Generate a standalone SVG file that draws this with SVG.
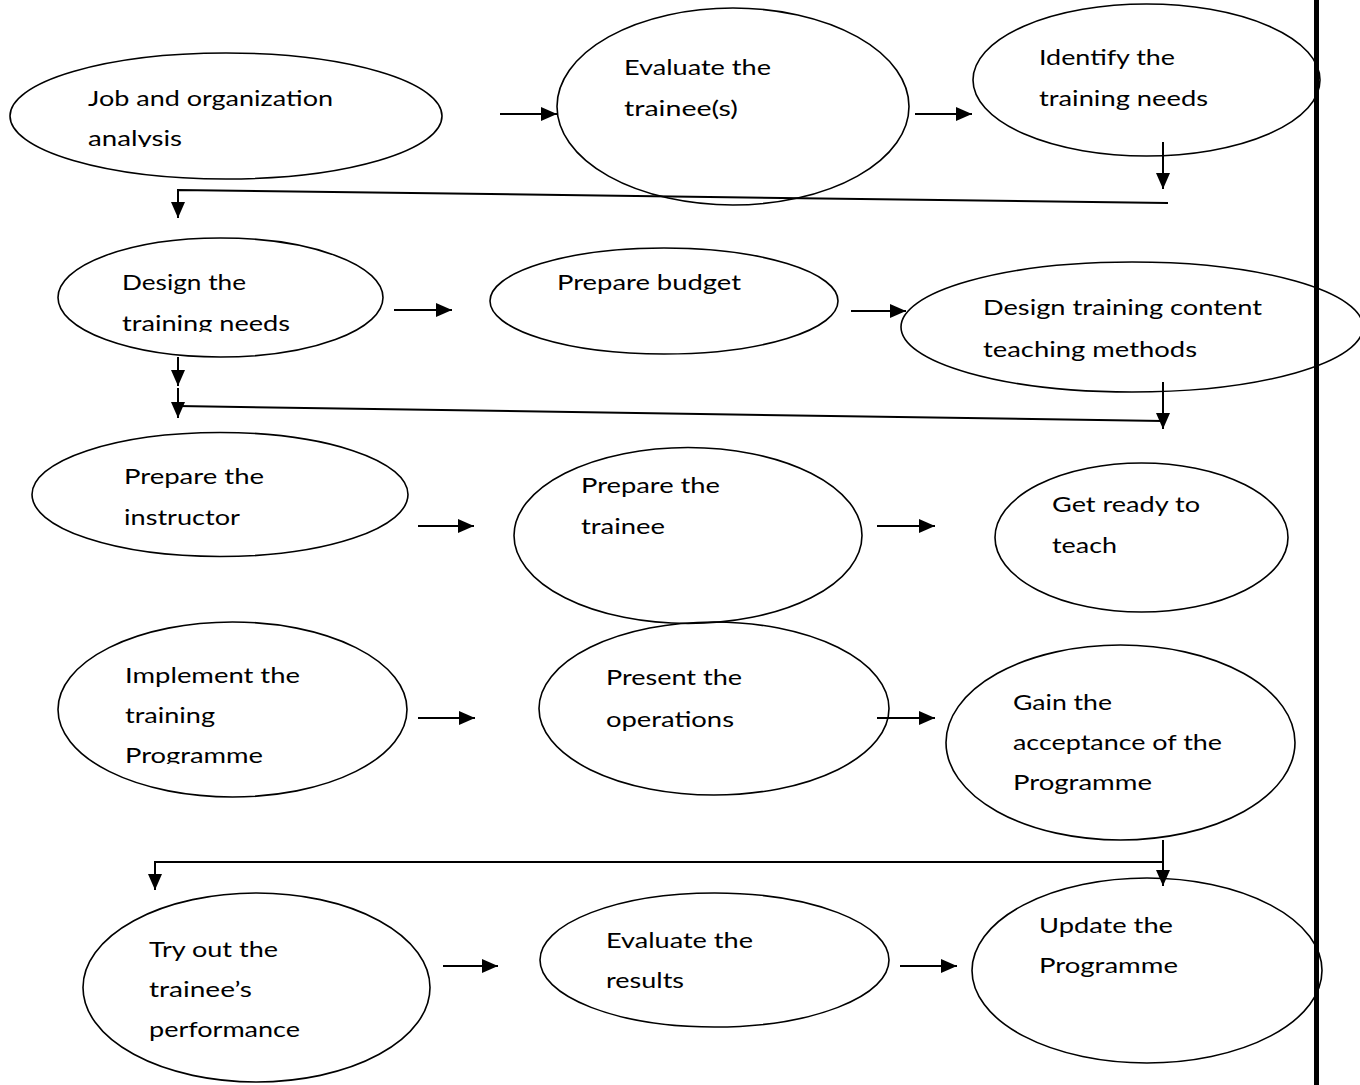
<svg xmlns="http://www.w3.org/2000/svg" width="1360" height="1085" viewBox="0 0 1360 1085">
  <style>
    .node ellipse { fill: none; stroke: #000; stroke-width: 1.6; }
    .lbl { font-family: Lato, "Liberation Sans", sans-serif; font-size: 21px; fill: #000; }
    .conn path, .conn line { fill: none; stroke: #000; stroke-width: 2; }
  </style>
  <defs>
    <marker id="arrow" markerUnits="userSpaceOnUse" markerWidth="16" markerHeight="14" refX="16" refY="7" orient="auto">
      <path d="M0,0 L16,7 L0,14 z" fill="#000"/>
    </marker>
    <!-- labels that run past the bottom of their box are cut off -->
    <clipPath id="clip-job"><rect x="0" y="0" width="460" height="147"/></clipPath>
    <clipPath id="clip-design"><rect x="0" y="200" width="460" height="132"/></clipPath>
    <clipPath id="clip-implement"><rect x="0" y="600" width="460" height="164"/></clipPath>
  </defs>

  <rect x="0" y="0" width="1360" height="1085" fill="#fff"/>

  <!-- row 1 -->
  <g id="job-analysis" class="node">
    <ellipse cx="226" cy="116" rx="216" ry="63"/>
    <g clip-path="url(#clip-job)">
      <text class="lbl" x="88" y="106" textLength="245" lengthAdjust="spacingAndGlyphs">Job and organization</text>
      <text class="lbl" x="88" y="146" textLength="94" lengthAdjust="spacingAndGlyphs">analysis</text>
    </g>
  </g>
  <g id="evaluate-trainees" class="node">
    <ellipse cx="733" cy="106.5" rx="176" ry="98.5"/>
    <text class="lbl" x="624" y="75" textLength="147" lengthAdjust="spacingAndGlyphs">Evaluate the</text>
    <text class="lbl" x="624" y="116" textLength="114" lengthAdjust="spacingAndGlyphs">trainee(s)</text>
  </g>
  <g id="identify-needs" class="node">
    <ellipse cx="1146.5" cy="80" rx="173.5" ry="76"/>
    <text class="lbl" x="1039" y="65" textLength="136" lengthAdjust="spacingAndGlyphs">Identify the</text>
    <text class="lbl" x="1039" y="106" textLength="169" lengthAdjust="spacingAndGlyphs">training needs</text>
  </g>

  <!-- row 2 -->
  <g id="design-needs" class="node">
    <ellipse cx="220.5" cy="297.5" rx="162.5" ry="59.5"/>
    <g clip-path="url(#clip-design)">
      <text class="lbl" x="122" y="290" textLength="124" lengthAdjust="spacingAndGlyphs">Design the</text>
      <text class="lbl" x="122" y="331" textLength="168" lengthAdjust="spacingAndGlyphs">training needs</text>
    </g>
  </g>
  <g id="prepare-budget" class="node">
    <ellipse cx="664" cy="301" rx="174" ry="53"/>
    <text class="lbl" x="557" y="290" textLength="184" lengthAdjust="spacingAndGlyphs">Prepare budget</text>
  </g>
  <g id="design-content" class="node">
    <ellipse cx="1132" cy="327" rx="231" ry="65"/>
    <text class="lbl" x="983" y="315" textLength="279" lengthAdjust="spacingAndGlyphs">Design training content</text>
    <text class="lbl" x="983" y="357" textLength="214" lengthAdjust="spacingAndGlyphs">teaching methods</text>
  </g>

  <!-- row 3 -->
  <g id="prepare-instructor" class="node">
    <ellipse cx="220" cy="494.5" rx="188" ry="62"/>
    <text class="lbl" x="124" y="484" textLength="140" lengthAdjust="spacingAndGlyphs">Prepare the</text>
    <text class="lbl" x="124" y="525" textLength="116" lengthAdjust="spacingAndGlyphs">instructor</text>
  </g>
  <g id="prepare-trainee" class="node">
    <ellipse cx="688" cy="535.5" rx="174" ry="88"/>
    <text class="lbl" x="581" y="493" textLength="139" lengthAdjust="spacingAndGlyphs">Prepare the</text>
    <text class="lbl" x="581" y="534" textLength="84" lengthAdjust="spacingAndGlyphs">trainee</text>
  </g>
  <g id="get-ready" class="node">
    <ellipse cx="1141.5" cy="537.5" rx="146.5" ry="74.5"/>
    <text class="lbl" x="1052" y="512" textLength="148" lengthAdjust="spacingAndGlyphs">Get ready to</text>
    <text class="lbl" x="1052" y="553" textLength="65" lengthAdjust="spacingAndGlyphs">teach</text>
  </g>

  <!-- row 4 -->
  <g id="implement-programme" class="node">
    <ellipse cx="232.5" cy="709.5" rx="174.5" ry="87.5"/>
    <g clip-path="url(#clip-implement)">
      <text class="lbl" x="125" y="683" textLength="175" lengthAdjust="spacingAndGlyphs">Implement the</text>
      <text class="lbl" x="125" y="723" textLength="90" lengthAdjust="spacingAndGlyphs">training</text>
      <text class="lbl" x="125" y="763" textLength="138" lengthAdjust="spacingAndGlyphs">Programme</text>
    </g>
  </g>
  <g id="present-operations" class="node">
    <ellipse cx="714" cy="708.5" rx="175" ry="86.5"/>
    <text class="lbl" x="606" y="685" textLength="136" lengthAdjust="spacingAndGlyphs">Present the</text>
    <text class="lbl" x="606" y="727" textLength="128" lengthAdjust="spacingAndGlyphs">operations</text>
  </g>
  <g id="gain-acceptance" class="node">
    <ellipse cx="1120.5" cy="742.5" rx="174.5" ry="97.5"/>
    <text class="lbl" x="1013" y="710" textLength="99" lengthAdjust="spacingAndGlyphs">Gain the</text>
    <text class="lbl" x="1013" y="750" textLength="209" lengthAdjust="spacingAndGlyphs">acceptance of the</text>
    <text class="lbl" x="1013" y="790" textLength="139" lengthAdjust="spacingAndGlyphs">Programme</text>
  </g>

  <!-- row 5 -->
  <g id="try-out" class="node">
    <ellipse cx="256.5" cy="987.5" rx="173.5" ry="94.5"/>
    <text class="lbl" x="149" y="957" textLength="129" lengthAdjust="spacingAndGlyphs">Try out the</text>
    <text class="lbl" x="149" y="997" textLength="103" lengthAdjust="spacingAndGlyphs">trainee’s</text>
    <text class="lbl" x="149" y="1037" textLength="151" lengthAdjust="spacingAndGlyphs">performance</text>
  </g>
  <g id="evaluate-results" class="node">
    <ellipse cx="714.5" cy="960" rx="174.5" ry="67"/>
    <text class="lbl" x="606" y="948" textLength="147" lengthAdjust="spacingAndGlyphs">Evaluate the</text>
    <text class="lbl" x="606" y="988" textLength="78" lengthAdjust="spacingAndGlyphs">results</text>
  </g>
  <g id="update-programme" class="node">
    <ellipse cx="1147" cy="970.5" rx="175" ry="92.5"/>
    <text class="lbl" x="1039" y="933" textLength="134" lengthAdjust="spacingAndGlyphs">Update the</text>
    <text class="lbl" x="1039" y="973" textLength="139" lengthAdjust="spacingAndGlyphs">Programme</text>
  </g>

  <!-- connectors -->
  <g id="connectors" class="conn">
    <path d="M500,114 H557" marker-end="url(#arrow)"/>
    <path d="M915,114 H972" marker-end="url(#arrow)"/>
    <path d="M1163,142 V189" stroke-width="1.6" marker-end="url(#arrow)"/>
    <path d="M1168,203 L178,190 V218" marker-end="url(#arrow)"/>

    <path d="M394,310 H452" marker-end="url(#arrow)"/>
    <path d="M851,311 H906" marker-end="url(#arrow)"/>
    <path d="M178,357 V386" marker-end="url(#arrow)"/>
    <path d="M178,388 V418" marker-end="url(#arrow)"/>
    <line x1="178" y1="406" x2="1163" y2="421"/>
    <path d="M1163,382 V429" stroke-width="1.6" marker-end="url(#arrow)"/>

    <path d="M418,526 H474" marker-end="url(#arrow)"/>
    <path d="M877,526 H935" marker-end="url(#arrow)"/>

    <path d="M418,718 H475" marker-end="url(#arrow)"/>
    <path d="M877,718 H935" marker-end="url(#arrow)"/>
    <path d="M1163,840 V886" marker-end="url(#arrow)"/>
    <path d="M1163,862 H155 V890" marker-end="url(#arrow)"/>

    <path d="M443,966 H498" marker-end="url(#arrow)"/>
    <path d="M900,966 H957" marker-end="url(#arrow)"/>
  </g>

  <!-- page edge bar -->
  <rect x="1314" y="0" width="5" height="1085" fill="#000"/>
</svg>
